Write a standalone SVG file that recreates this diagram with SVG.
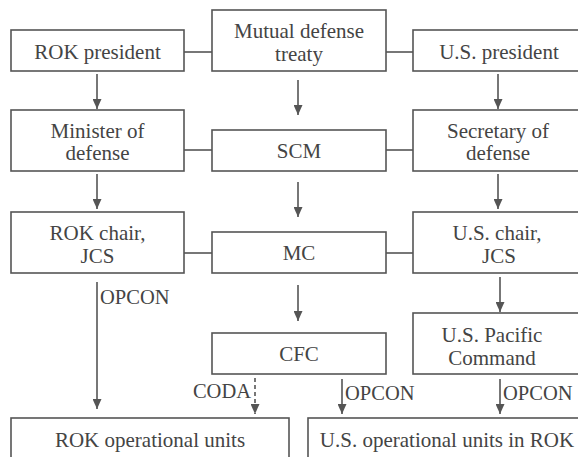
<svg xmlns="http://www.w3.org/2000/svg" width="578" height="457" viewBox="0 0 578 457">
<style>
  .box{fill:#ffffff;stroke:#555555;stroke-width:1.6}
  text{font-family:'Liberation Serif','Times New Roman',serif;fill:#444444}
  .t{font-size:21px;text-anchor:middle}
  .lbl{font-size:20.5px}
  .ln{stroke:#555555;stroke-width:1.6;fill:none}
  .arr{stroke:#555555;stroke-width:1.6;fill:none;marker-end:url(#ah)}
  .dash{stroke-dasharray:4 3}
</style>
<defs>
  <marker id="ah" markerUnits="userSpaceOnUse" markerWidth="10" markerHeight="9" refX="10" refY="4.5" orient="auto">
    <path d="M0,0 L10,4.5 L0,9 Z" fill="#555555"/>
  </marker>
</defs>
<rect x="0" y="0" width="578" height="457" fill="#ffffff"/>

<g id="connectors">
  <line class="ln" x1="184" y1="52" x2="212" y2="52"/>
  <line class="ln" x1="386" y1="52" x2="413" y2="52"/>
  <line class="ln" x1="184" y1="150" x2="212" y2="150"/>
  <line class="ln" x1="386" y1="150" x2="413" y2="150"/>
  <line class="ln" x1="184" y1="253" x2="212" y2="253"/>
  <line class="ln" x1="386" y1="253" x2="413" y2="253"/>

  <line class="arr" x1="97" y1="74" x2="97" y2="109"/>
  <line class="arr" x1="97" y1="174" x2="97" y2="209"/>
  <line class="arr" x1="298" y1="80" x2="298" y2="115"/>
  <line class="arr" x1="298" y1="182" x2="298" y2="217"/>
  <line class="arr" x1="298" y1="285" x2="298" y2="321"/>
  <line class="arr" x1="498" y1="74" x2="498" y2="109"/>
  <line class="arr" x1="498" y1="174" x2="498" y2="209"/>
  <line class="arr" x1="500" y1="277" x2="500" y2="312"/>

  <line class="arr" x1="97" y1="282" x2="97" y2="409"/>
  <text class="lbl" x="100" y="304">OPCON</text>
  <line class="arr dash" x1="255" y1="378" x2="255" y2="414"/>
  <text class="lbl" x="251" y="398" text-anchor="end">CODA</text>
  <line class="arr" x1="342" y1="379" x2="342" y2="414"/>
  <text class="lbl" x="345" y="400">OPCON</text>
  <line class="arr" x1="500" y1="379" x2="500" y2="414"/>
  <text class="lbl" x="503" y="400">OPCON</text>
</g>

<g id="rok_president">
  <rect class="box" x="11" y="30" width="173" height="41"/>
  <text class="t" x="97.5" y="58.5">ROK president</text>
</g>
<g id="mutual_defense_treaty">
  <rect class="box" x="212" y="10" width="174" height="61"/>
  <text class="t" x="299" y="38">Mutual defense</text>
  <text class="t" x="299" y="60.5">treaty</text>
</g>
<g id="us_president">
  <rect class="box" x="413" y="30" width="173" height="41"/>
  <text class="t" x="499" y="58.5">U.S. president</text>
</g>
<g id="minister_of_defense">
  <rect class="box" x="11" y="110" width="173" height="61"/>
  <text class="t" x="97.5" y="137.5">Minister of</text>
  <text class="t" x="97.5" y="160">defense</text>
</g>
<g id="scm">
  <rect class="box" x="212" y="130" width="174" height="41"/>
  <text class="t" x="299" y="157.5">SCM</text>
</g>
<g id="secretary_of_defense">
  <rect class="box" x="413" y="110" width="173" height="61"/>
  <text class="t" x="498" y="137.5">Secretary of</text>
  <text class="t" x="498" y="160">defense</text>
</g>
<g id="rok_chair_jcs">
  <rect class="box" x="11" y="212" width="173" height="61"/>
  <text class="t" x="97.5" y="240">ROK chair,</text>
  <text class="t" x="97.5" y="262.5">JCS</text>
</g>
<g id="mc">
  <rect class="box" x="212" y="232" width="174" height="41"/>
  <text class="t" x="299" y="260">MC</text>
</g>
<g id="us_chair_jcs">
  <rect class="box" x="413" y="212" width="173" height="61"/>
  <text class="t" x="497" y="240">U.S. chair,</text>
  <text class="t" x="499" y="262.5">JCS</text>
</g>
<g id="cfc">
  <rect class="box" x="212" y="333" width="174" height="41"/>
  <text class="t" x="299" y="361">CFC</text>
</g>
<g id="us_pacific_command">
  <rect class="box" x="413" y="313" width="173" height="61"/>
  <text class="t" x="492" y="342">U.S. Pacific</text>
  <text class="t" x="492" y="364.5">Command</text>
</g>
<g id="rok_operational_units">
  <rect class="box" x="11" y="418" width="278" height="60"/>
  <text class="t" x="150" y="447">ROK operational units</text>
</g>
<g id="us_operational_units">
  <rect class="box" x="308" y="418" width="278" height="60"/>
  <text class="t" x="447" y="447">U.S. operational units in ROK</text>
</g>
</svg>
